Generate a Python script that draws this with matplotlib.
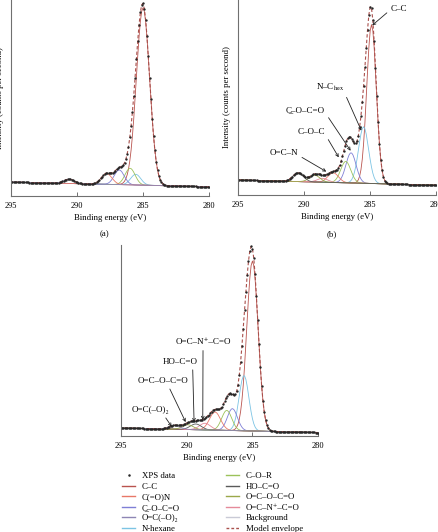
import numpy as np
import matplotlib.pyplot as plt
from matplotlib.lines import Line2D

plt.rcParams['font.family'] = ['Liberation Serif', 'DejaVu Serif']
plt.rcParams['mathtext.fontset'] = 'stix'

# binding energy grid of the measured spectrum (eV)
energy = np.arange(280.0, 295.001, 0.1)

# legend entries (shared by the three panels)
comp_keys = ['CC', 'CON', 'COCO', 'OCO2', 'NHEX', 'COR', 'HOCO', 'OCOCO', 'OCNCO']
comp_labels = ['C–C', 'C(=O)N', 'C\u0332–O–C=O', 'O=C(–O)\u2082', 'N-hexane',
               'C–O–R', 'HO–C=O', 'O=C–O–C=O', 'O=C–N\u207a–C=O']
comp_colors = ['#b9534e', '#e87868', '#7f7fd6', '#8e86b4', '#7cc4e4',
               '#9cc25a', '#5a5a5a', '#9aa84a', '#e58a9a']
bg_color = '#c9cad6'
env_color = '#a9504c'

# panel (a): fitted peaks (centre eV, height, sigma eV), linear background at 280/295 eV
a_comps = ['CC', 'NHEX', 'COR', 'COCO', 'CON', 'OCO2']
a_centers = [285.0, 285.55, 285.98, 286.8, 287.75, 290.6]
a_heights = [0.905, 0.055, 0.085, 0.075, 0.055, 0.022]
a_sigmas = [0.5, 0.38, 0.38, 0.38, 0.4, 0.4]
a_bg = [0.047, 0.071]

# panel (b)
b_comps = ['CC', 'NHEX', 'COCO', 'COR', 'CON', 'OCNCO', 'OCOCO', 'HOCO']
b_centers = [284.9, 285.5, 286.45, 286.85, 287.8, 288.6, 289.2, 290.45]
b_heights = [0.815, 0.29, 0.155, 0.11, 0.05, 0.02, 0.035, 0.045]
b_sigmas = [0.36, 0.38, 0.38, 0.38, 0.4, 0.4, 0.4, 0.4]
b_bg = [0.05, 0.077]

# panel (c)
c_comps = ['CC', 'NHEX', 'COCO', 'COR', 'CON', 'OCNCO', 'HOCO', 'OCOCO', 'OCO2']
c_centers = [285.0, 285.64, 286.52, 286.95, 287.84, 288.6, 289.3, 289.9, 290.9]
c_heights = [0.89, 0.29, 0.115, 0.105, 0.095, 0.035, 0.03, 0.025, 0.02]
c_sigmas = [0.43, 0.37, 0.38, 0.38, 0.42, 0.42, 0.42, 0.42, 0.42]
c_bg = [0.018, 0.042]


def gauss(x, c, h, s):
    return h * np.exp(-(x - c) ** 2 / (2 * s ** 2))


def draw_panel(ax, comps, centers, heights, sigmas, bg_ends):
    bg = bg_ends[0] + (bg_ends[1] - bg_ends[0]) * (energy - 280.0) / 15.0
    ax.plot(energy, bg, color=bg_color, lw=0.6)
    env = bg.copy()
    for k, c, h, s in zip(comps, centers, heights, sigmas):
        g = gauss(energy, c, h, s)
        env += g
        ax.plot(energy, bg + g, color=comp_colors[comp_keys.index(k)], lw=0.6)
    ax.plot(energy, env, color=env_color, lw=0.8, ls=(0, (3, 2)))
    ax.plot(energy, env, ls='none', marker='o', ms=1.7, mew=0, color='#262626')

    ax.set_xlim(295, 280)
    ax.set_ylim(0, 1)
    ax.set_xticks([295, 290, 285, 280])
    ax.set_yticks([])
    ax.tick_params(axis='x', direction='in', length=3, width=0.7, color='#707070',
                   labelsize=6, pad=4)
    for side in ['top', 'right']:
        ax.spines[side].set_visible(False)
    for side in ['left', 'bottom']:
        ax.spines[side].set_color('#707070')
        ax.spines[side].set_linewidth(0.8)
    ax.set_xlabel('Binding energy (eV)', fontsize=6.3, labelpad=3)


fig = plt.figure(figsize=(4.38, 5.32), dpi=100)
W, H = 438.0, 532.0

ax_a = fig.add_axes([11 / W, 1 - 196 / H, 198 / W, 196 / H])
ax_b = fig.add_axes([238 / W, 1 - 195 / H, 198.3 / W, 195 / H])
ax_c = fig.add_axes([120.7 / W, 1 - 436 / H, 197.6 / W, 191 / H])

draw_panel(ax_a, a_comps, a_centers, a_heights, a_sigmas, a_bg)
draw_panel(ax_b, b_comps, b_centers, b_heights, b_sigmas, b_bg)
draw_panel(ax_c, c_comps, c_centers, c_heights, c_sigmas, c_bg)

for ax in (ax_a, ax_b):
    ax.set_ylabel('Intensity (counts per second)', fontsize=6.3)
    ax.yaxis.set_label_coords(-0.034, 0.5)

fig.text(104 / W, 1 - 234 / H, '(a)', fontsize=6.3, ha='center', va='center')
fig.text(332 / W, 1 - 234 / H, '(b)', fontsize=6.3, ha='center', va='center')

# peak labels, panel (b)
arrow = dict(arrowstyle='->', lw=0.6, color='#222222', shrinkA=1, shrinkB=0, mutation_scale=5)
ax_b.annotate('C–C', xy=(284.85, 0.87), xytext=(283.45, 0.955), fontsize=6.5,
              ha='left', va='center', arrowprops=dict(arrow, relpos=(0, 0.4)))
ax_b.annotate(r'N–C$_{\mathrm{hex}}$', xy=(285.67, 0.33), xytext=(287.0, 0.55), fontsize=6.5,
              ha='right', va='center', arrowprops=dict(arrow, relpos=(1, 0.2)))
ax_b.annotate('C\u0332–O–C=O', xy=(286.48, 0.227), xytext=(288.42, 0.436),
              fontsize=6.5, ha='right', va='center', arrowprops=dict(arrow, relpos=(1, 0.2)))
ax_b.annotate('C–O–C', xy=(287.38, 0.193), xytext=(288.42, 0.325), fontsize=6.5,
              ha='right', va='center', arrowprops=dict(arrow, relpos=(1, 0.2)))
ax_b.annotate('O=C–N', xy=(288.32, 0.12), xytext=(290.46, 0.217), fontsize=6.5,
              ha='right', va='center', arrowprops=dict(arrow, relpos=(1, 0.2)))

# peak labels, panel (c)
ax_c.annotate('O=C–N\u207a–C=O', xy=(288.77, 0.084), xytext=(288.75, 0.49), fontsize=6.5,
              ha='center', va='center', arrowprops=dict(arrow, relpos=(0.5, 0)))
ax_c.annotate('HO–C=O', xy=(289.43, 0.073), xytext=(290.47, 0.389), fontsize=6.5,
              ha='center', va='center', arrowprops=dict(arrow, relpos=(0.85, 0)))
ax_c.annotate('O=C–O–C=O', xy=(290.07, 0.073), xytext=(291.8, 0.288), fontsize=6.5,
              ha='center', va='center', arrowprops=dict(arrow, relpos=(0.6, 0)))
ax_c.annotate('O=C(–O)\u2082', xy=(291.13, 0.049), xytext=(292.78, 0.136), fontsize=6.5,
              ha='center', va='center', arrowprops=dict(arrow, relpos=(0.85, 0)))

# shared legend, two columns
handles = [Line2D([], [], ls='none', marker='o', ms=1.8, mew=0, color='#262626')]
handles += [Line2D([], [], color=col, lw=1.0) for col in comp_colors]
handles += [Line2D([], [], color=bg_color, lw=1.0),
            Line2D([], [], color=env_color, lw=1.0, ls=(0, (2, 1.5)))]
labels = ['XPS data'] + comp_labels + ['Background', 'Model envelope']

leg_kw = dict(loc='upper left', frameon=False, fontsize=6.3, borderpad=0, borderaxespad=0,
              handlelength=1.5, handletextpad=0.8, labelspacing=0.28)
fig.legend(handles[:6], labels[:6], bbox_to_anchor=(122 / W, 1 - 472 / H), **leg_kw)
fig.legend(handles[6:], labels[6:], bbox_to_anchor=(226 / W, 1 - 472 / H), **leg_kw)

fig.savefig('out.png', dpi=100)
